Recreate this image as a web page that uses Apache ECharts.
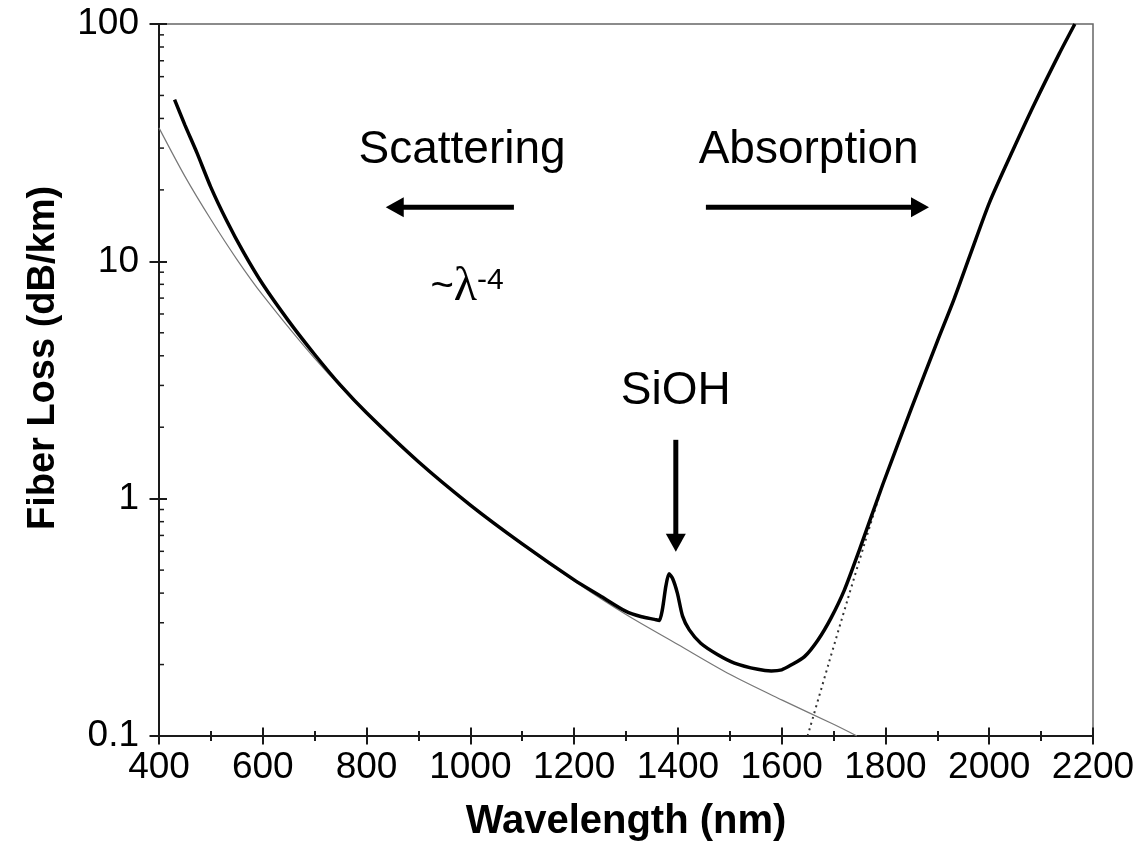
<!DOCTYPE html>
<html><head><meta charset="utf-8">
<script src="https://cdn.jsdelivr.net/npm/echarts@6/dist/echarts.min.js"></script>
<style>html,body{margin:0;padding:0;background:#fff}#c{width:1145px;height:845px}</style>
</head><body><div id="c"></div>
<script>
// ---- data ----
const totalLossNm = [430,450,473,500,530,563,600,650,700,750,800,900,1000,1100,1200,1250,1300,1330,1355,1364,1370,1377,1383,1390,1399,1409,1422,1444,1477,1509,1554,1580,1600,1618,1644,1670,1695,1721,1750,1795,1850,1900,1933,1965,2001,2046,2087,2135,2165];
const totalLoss   = [48,37.5,28.7,20.5,14.9,10.9,8.0,5.6,4.05,3.0,2.3,1.43,0.94,0.645,0.455,0.39,0.335,0.318,0.31,0.307,0.34,0.43,0.483,0.46,0.40,0.32,0.28,0.246,0.22,0.203,0.191,0.188,0.19,0.199,0.216,0.254,0.314,0.413,0.61,1.15,2.4,4.6,7.0,10.9,17.8,29.5,46,75,100];
const rayleighNm = [400,450,500,550,600,700,800,900,1000,1100,1200,1300,1400,1500,1600,1700,1745];
const rayleigh   = [36.5,22.8,15.0,10.2,7.2,3.9,2.28,1.42,0.935,0.64,0.45,0.325,0.243,0.182,0.142,0.112,0.1];
const irNm = [1650,1690,1727,1760,1795];
const ir   = [0.1,0.2,0.375,0.65,1.15];
const yMinorTicks = [0.2,0.3,0.4,0.5,0.6,0.7,0.8,0.9,2,3,4,5,6,7,8,9,20,30,40,50,60,70,80,90];
const annotationTexts = ['Scattering','Absorption','SiOH'];
const annotationAnchors = [[984,29.5],[1652,29.5],[1396,2.84]];
const lambdaAnchor = [923,7.77];
const arrows = [[1084,16.9,837,16.9],[1454,16.9,1884,16.9],[1396,1.77,1396,0.598]];
// ---------------------------------------

const FONT = "'Liberation Sans', Arial, Helvetica, sans-serif";
const INK = '#1a1a1a';
const pair = (xs, ys) => xs.map((x, i) => [x, ys[i]]);

const chart = echarts.init(document.getElementById('c'), null, {renderer: 'canvas'});

const xCommon = {type: 'value', min: 400, max: 2200, interval: 200, position: 'bottom', gridIndex: 0, splitLine: {show: false}};
const yCommon = {type: 'log', logBase: 10, min: 0.1, max: 100, position: 'left', gridIndex: 0, splitLine: {show: false}, minorTick: {show: false}};

const option = {
  animation: false,
  backgroundColor: '#fff',
  grid: {left: 159, right: 52, top: 24, bottom: 109, show: true, borderColor: '#666', borderWidth: 1.5, backgroundColor: 'transparent', outerBoundsMode: 'none'},
  xAxis: [
    Object.assign({}, xCommon, {
      axisLine: {show: true, lineStyle: {color: INK, width: 2}},
      axisTick: {show: true, inside: true, length: 8.5, lineStyle: {color: INK, width: 2}},
      minorTick: {show: true, splitNumber: 2, length: 5, lineStyle: {color: INK, width: 2}},
      axisLabel: {show: true, margin: 13, color: '#000', fontSize: 37, fontFamily: FONT, formatter: v => String(v)},
      name: 'Wavelength (nm)', nameLocation: 'middle', nameGap: 66,
      nameTextStyle: {fontSize: 40, fontWeight: 'bold', fontFamily: FONT, color: '#000'}
    }),
    Object.assign({}, xCommon, {
      axisLine: {show: false},
      axisTick: {show: true, inside: false, length: 8.5, lineStyle: {color: INK, width: 2}},
      minorTick: {show: true, splitNumber: 2, length: 5, lineStyle: {color: INK, width: 2}},
      axisLabel: {show: false}
    })
  ],
  yAxis: [
    Object.assign({}, yCommon, {
      axisLine: {show: true, lineStyle: {color: INK, width: 2}},
      axisTick: {show: true, inside: true, length: 8, lineStyle: {color: INK, width: 2}},
      axisLabel: {show: true, margin: 20, color: '#000', fontSize: 37, fontFamily: FONT, formatter: v => String(v)},
      name: 'Fiber Loss (dB/km)', nameLocation: 'middle', nameGap: 96,
      nameTextStyle: {fontSize: 38, fontWeight: 'bold', fontFamily: FONT, color: '#000', padding: [0, 0, 0, 44]}
    }),
    Object.assign({}, yCommon, {
      axisLine: {show: false},
      axisTick: {show: true, inside: false, length: 9.5, lineStyle: {color: INK, width: 2}},
      axisLabel: {show: false}
    })
  ],
  series: [
    {
      name: 'Rayleigh scattering', type: 'line', xAxisIndex: 0, yAxisIndex: 0,
      data: pair(rayleighNm, rayleigh), showSymbol: false, smooth: 0.3,
      lineStyle: {color: '#777', width: 1.2}, z: 2, silent: true
    },
    {
      name: 'IR absorption', type: 'line', xAxisIndex: 0, yAxisIndex: 0,
      data: pair(irNm, ir), showSymbol: false, smooth: 0.3,
      lineStyle: {color: '#333', width: 2, type: [2, 4]}, z: 2, silent: true
    },
    {
      name: 'Fiber loss', type: 'line', xAxisIndex: 0, yAxisIndex: 0,
      data: pair(totalLossNm, totalLoss), showSymbol: false, smooth: 0.25,
      lineStyle: {color: '#000', width: 3.5}, z: 3, silent: true
    },
    {
      name: 'minor ticks', type: 'custom', xAxisIndex: 0, yAxisIndex: 0, clip: false, silent: true, z: 5,
      data: yMinorTicks.map(v => [400, v]),
      renderItem: (params, api) => {
        const p = api.coord([api.value(0), api.value(1)]);
        return {type: 'line', shape: {x1: p[0], y1: p[1], x2: p[0] + 5, y2: p[1]}, style: {stroke: INK, lineWidth: 1.5}};
      }
    },
    {
      name: 'arrows', type: 'custom', xAxisIndex: 0, yAxisIndex: 0, clip: false, silent: true, z: 6,
      data: arrows, encode: {x: [0, 2], y: [1, 3]},
      renderItem: (params, api) => {
        const a = api.coord([api.value(0), api.value(1)]);
        const b = api.coord([api.value(2), api.value(3)]);
        const dx = b[0] - a[0], dy = b[1] - a[1];
        const len = Math.sqrt(dx * dx + dy * dy);
        const ux = dx / len, uy = dy / len;
        const hl = 18, hw = 10;
        const bx = b[0] - ux * hl, by = b[1] - uy * hl;
        return {
          type: 'group', children: [
            {type: 'line', shape: {x1: a[0], y1: a[1], x2: bx + ux * 2, y2: by + uy * 2}, style: {stroke: '#000', lineWidth: 5}},
            {type: 'polygon', shape: {points: [[b[0], b[1]], [bx - uy * hw, by + ux * hw], [bx + uy * hw, by - ux * hw]]}, style: {fill: '#000'}}
          ]
        };
      }
    },
    {
      name: 'labels', type: 'custom', xAxisIndex: 0, yAxisIndex: 0, clip: false, silent: true, z: 6,
      data: annotationAnchors.map((p, i) => [p[0], p[1], i]),
      renderItem: (params, api) => {
        const p = api.coord([api.value(0), api.value(1)]);
        return {type: 'text', x: p[0], y: p[1], style: {text: annotationTexts[api.value(2)], fill: '#000',
          font: '46px ' + FONT, align: 'center', verticalAlign: 'middle', textAlign: 'center', textVerticalAlign: 'middle'}};
      }
    },
    {
      name: 'lambda', type: 'custom', xAxisIndex: 0, yAxisIndex: 0, clip: false, silent: true, z: 6,
      data: [lambdaAnchor],
      renderItem: (params, api) => {
        const p = api.coord([api.value(0), api.value(1)]);
        return {type: 'text', x: p[0], y: p[1], style: {
          text: '{a|~}{l|λ}{s|-4}', fill: '#000', align: 'left', verticalAlign: 'middle',
          rich: {
            a: {fontSize: 40, fontFamily: FONT, lineHeight: 44, verticalAlign: 'middle'},
            l: {fontSize: 48, fontFamily: "'Liberation Serif', 'DejaVu Serif', serif", lineHeight: 44, verticalAlign: 'middle'},
            s: {fontSize: 30, fontFamily: FONT, lineHeight: 44, verticalAlign: 'top'}
          }
        }};
      }
    }
  ]
};
chart.setOption(option);
</script>
</body></html>
